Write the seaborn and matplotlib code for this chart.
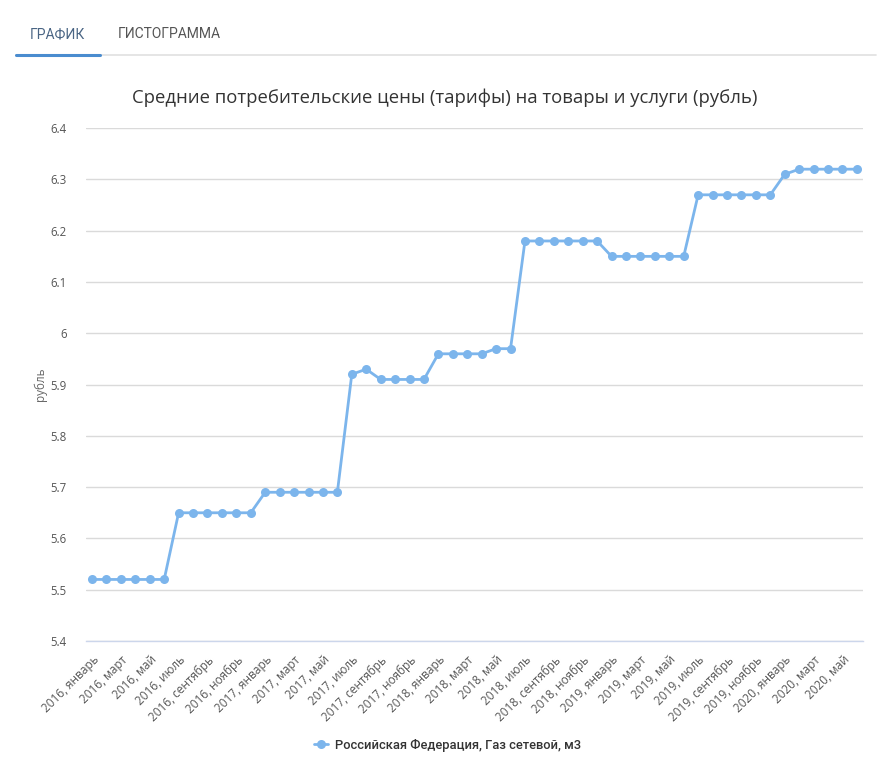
import numpy as np
import pandas as pd
import matplotlib
matplotlib.use("Agg")
import matplotlib.pyplot as plt
import matplotlib.ticker as mticker
import seaborn as sns

# Data: monthly gas prices, January 2016 to June 2020
years = [2016, 2017, 2018, 2019, 2020]
month_names = ["январь", "февраль", "март", "апрель", "май", "июнь",
               "июль", "август", "сентябрь", "октябрь", "ноябрь", "декабрь"]
prices_2016 = [5.52, 5.52, 5.52, 5.52, 5.52, 5.52, 5.65, 5.65, 5.65, 5.65, 5.65, 5.65]
prices_2017 = [5.69, 5.69, 5.69, 5.69, 5.69, 5.69, 5.92, 5.93, 5.91, 5.91, 5.91, 5.91]
prices_2018 = [5.96, 5.96, 5.96, 5.96, 5.97, 5.97, 6.18, 6.18, 6.18, 6.18, 6.18, 6.18]
prices_2019 = [6.15, 6.15, 6.15, 6.15, 6.15, 6.15, 6.27, 6.27, 6.27, 6.27, 6.27, 6.27]
prices_2020 = [6.31, 6.32, 6.32, 6.32, 6.32, 6.32]

series_name = "Российская Федерация, Газ сетевой, м3"
title = "Средние потребительские цены (тарифы) на товары и услуги (рубль)"
y_label = "рубль"
y_ticks = [5.4, 5.5, 5.6, 5.7, 5.8, 5.9, 6.0, 6.1, 6.2, 6.3, 6.4]

values = prices_2016 + prices_2017 + prices_2018 + prices_2019 + prices_2020
labels = []
for y in years:
    for m in month_names:
        labels.append(f"{y}, {m}")
labels = labels[:len(values)]

df = pd.DataFrame({"idx": np.arange(len(values)), "price": values, "label": labels})

sns.set_theme(style="white")
plt.rcParams["font.family"] = ["Open Sans", "DejaVu Sans"]

fig = plt.figure(figsize=(8.9, 7.72), dpi=100)
ax = fig.add_axes([0.0966, 0.1697, 0.873, 0.6643])

line_color = "#7cb5ec"
sns.lineplot(data=df, x="idx", y="price", ax=ax, color=line_color, lw=2,
             marker="o", markersize=6.5, markeredgewidth=0, label=series_name,
             legend=False)

ax.set_xlim(-0.42, len(values) - 1 + 0.42)
ax.set_ylim(5.4, 6.4)
ax.set_yticks(y_ticks)
ax.yaxis.set_major_formatter(mticker.FuncFormatter(lambda v, p: f"{v:g}"))
ax.yaxis.grid(True, color="#dadada", lw=1)
ax.set_axisbelow(True)

xt = df["idx"][::2]
ax.set_xticks(xt)
ax.set_xticklabels(df["label"][::2], rotation=45, ha="right", rotation_mode="anchor",
                   fontsize=8.5, color="#555555")
ax.tick_params(axis="x", length=6, width=1, color="#ccd6eb", pad=3)
ax.tick_params(axis="y", length=0, pad=14, labelsize=8.3, labelcolor="#555555")
for lbl in ax.get_yticklabels():
    lbl.set_horizontalalignment("right")

for s in ["top", "right", "left"]:
    ax.spines[s].set_visible(False)
ax.spines["bottom"].set_color("#ccd6eb")
ax.spines["bottom"].set_linewidth(1)

ax.set_xlabel("")
ax.set_ylabel(y_label, fontsize=8.5, color="#666666", labelpad=2)

fig.text(0.5, 0.873, title, ha="center", va="center", fontsize=13.3, color="#333333")

# Tabs header
fig.text(30 / 890, 1 - 34 / 772, "ГРАФИК", ha="left", va="center", fontsize=10,
         color="#4a6584", family=["Roboto", "DejaVu Sans"])
fig.text(118 / 890, 1 - 34 / 772, "ГИСТОГРАММА", ha="left", va="center", fontsize=10,
         color="#555555", family=["Roboto", "DejaVu Sans"])
fig.add_artist(plt.Line2D([16 / 890, 876 / 890], [1 - 55 / 772] * 2, color="#e0e0e0", lw=1.2))
fig.add_artist(plt.Line2D([16 / 890, 100 / 890], [1 - 54.5 / 772] * 2, color="#4a8ccf", lw=2.2))

# Legend
handles, _ = ax.get_legend_handles_labels()
leg = fig.legend(handles, [series_name], loc="center", bbox_to_anchor=(0.503, 1 - 745 / 772),
                 frameon=False, handlelength=1.1, handletextpad=0.5,
                 prop={"family": ["Roboto", "DejaVu Sans"], "size": 9.3, "weight": "medium"})
for t in leg.get_texts():
    t.set_color("#333333")

fig.savefig("out.png", dpi=100, facecolor="white")
